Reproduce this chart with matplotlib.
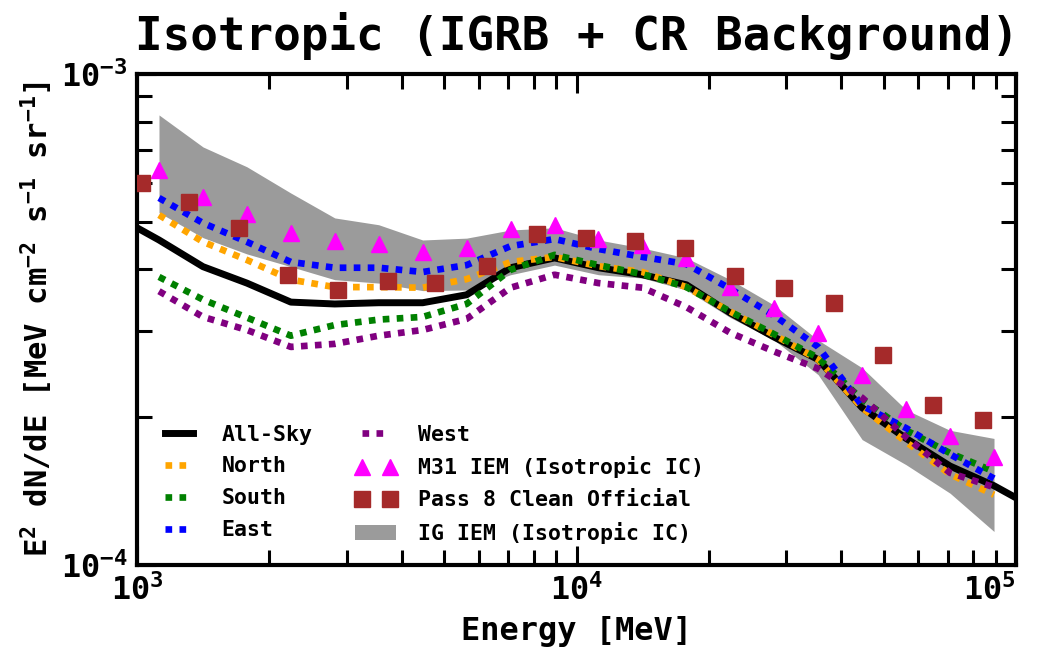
import numpy as np
import matplotlib
matplotlib.use('Agg')
import matplotlib.pyplot as plt
from matplotlib.ticker import LogLocator, NullFormatter

plt.rcParams['font.family'] = ['DejaVu Sans Mono']
plt.rcParams['font.weight'] = 'bold'
plt.rcParams['mathtext.fontset'] = 'custom'
plt.rcParams['mathtext.rm'] = 'DejaVu Sans Mono:bold'
plt.rcParams['mathtext.it'] = 'DejaVu Sans Mono:bold'
plt.rcParams['mathtext.bf'] = 'DejaVu Sans Mono:bold'
plt.rcParams['mathtext.default'] = 'regular'

# ---------------- data ----------------
energy = [1122, 1413, 1778, 2239, 2818, 3548, 4467, 5623, 7079, 8913,
          11220, 14125, 17783, 22387, 28184, 35481, 44668, 56234, 70795, 89125]

allsky_energy = [1000] + energy + [100000]
allsky = [4.86e-4, 4.59e-4, 4.05e-4, 3.75e-4, 3.43e-4, 3.40e-4, 3.42e-4, 3.42e-4, 3.55e-4,
          4.03e-4, 4.22e-4, 4.03e-4, 3.90e-4, 3.72e-4, 3.26e-4, 2.91e-4, 2.62e-4, 2.09e-4,
          1.81e-4, 1.59e-4, 1.45e-4, 1.37e-4]

north = [5.16e-4, 4.55e-4, 4.18e-4, 3.81e-4, 3.68e-4, 3.68e-4, 3.67e-4, 3.82e-4, 4.14e-4, 4.24e-4,
         4.06e-4, 3.95e-4, 3.68e-4, 3.28e-4, 2.94e-4, 2.62e-4, 2.09e-4, 1.78e-4, 1.53e-4, 1.39e-4]
south = [3.86e-4, 3.47e-4, 3.19e-4, 2.93e-4, 3.08e-4, 3.16e-4, 3.20e-4, 3.40e-4, 3.99e-4, 4.28e-4,
         4.08e-4, 3.91e-4, 3.68e-4, 3.28e-4, 2.95e-4, 2.64e-4, 2.17e-4, 1.88e-4, 1.69e-4, 1.55e-4]
east = [5.59e-4, 4.97e-4, 4.55e-4, 4.14e-4, 4.03e-4, 4.03e-4, 3.95e-4, 4.08e-4, 4.46e-4, 4.61e-4,
        4.40e-4, 4.24e-4, 4.10e-4, 3.65e-4, 3.22e-4, 2.78e-4, 2.11e-4, 1.90e-4, 1.68e-4, 1.50e-4]
west = [3.61e-4, 3.20e-4, 3.01e-4, 2.78e-4, 2.82e-4, 2.93e-4, 3.01e-4, 3.17e-4, 3.67e-4, 3.90e-4,
        3.75e-4, 3.67e-4, 3.35e-4, 2.97e-4, 2.72e-4, 2.51e-4, 2.19e-4, 1.82e-4, 1.54e-4, 1.44e-4]

m31_iem = [6.38e-4, 5.62e-4, 5.19e-4, 4.74e-4, 4.57e-4, 4.51e-4, 4.34e-4, 4.42e-4, 4.83e-4, 4.93e-4,
           4.61e-4, 4.49e-4, 4.22e-4, 3.68e-4, 3.34e-4, 2.97e-4, 2.44e-4, 2.08e-4, 1.83e-4, 1.66e-4]

ig_upper = [8.25e-4, 7.10e-4, 6.47e-4, 5.72e-4, 5.09e-4, 4.93e-4, 4.59e-4, 4.63e-4, 4.81e-4, 4.86e-4,
            4.59e-4, 4.42e-4, 4.22e-4, 3.81e-4, 3.38e-4, 2.87e-4, 2.52e-4, 2.07e-4, 1.88e-4, 1.81e-4]
ig_lower = [5.22e-4, 4.64e-4, 4.30e-4, 4.05e-4, 3.81e-4, 3.75e-4, 3.62e-4, 3.63e-4, 3.90e-4, 4.08e-4,
            3.90e-4, 3.84e-4, 3.63e-4, 3.19e-4, 2.87e-4, 2.44e-4, 1.80e-4, 1.60e-4, 1.40e-4, 1.17e-4]

p8_energy = [1027, 1313, 1707, 2206, 2866, 3725, 4765, 6258, 8130, 10510,
             13587, 17652, 22937, 29657, 38531, 49831, 64728, 84120]
p8_clean = [6.00e-4, 5.49e-4, 4.86e-4, 3.90e-4, 3.63e-4, 3.79e-4, 3.75e-4, 4.06e-4, 4.72e-4,
            4.63e-4, 4.57e-4, 4.42e-4, 3.88e-4, 3.67e-4, 3.42e-4, 2.68e-4, 2.12e-4, 1.97e-4]

# ---------------- plot ----------------
fig = plt.figure(figsize=(10.5, 6.6), dpi=100)
ax = fig.add_axes([0.1305, 0.144, 0.8371, 0.744])

band = ax.fill_between(energy, ig_lower, ig_upper, color='#9b9b9b', lw=0, zorder=1,
                       label='IG IEM (Isotropic IC)')
l_all, = ax.plot(allsky_energy, allsky, color='black', lw=5, zorder=2, label='All-Sky')
dot = dict(lw=4.8, ls=(0, (1, 1.1)), dash_capstyle='butt', zorder=3)
l_n, = ax.plot(energy, north, color='#FFA500', label='North', **dot)
l_s, = ax.plot(energy, south, color='#008000', label='South', **dot)
l_e, = ax.plot(energy, east, color='#0000FF', label='East', **dot)
l_w, = ax.plot(energy, west, color='#800080', label='West', **dot)
l_m, = ax.plot(energy, m31_iem, ls='none', marker='^', ms=12, color='#FF00FF',
               mec='#FF00FF', zorder=4, label='M31 IEM (Isotropic IC)')
l_p, = ax.plot(p8_energy, p8_clean, ls='none', marker='s', ms=11, color='#A52A2A',
               mec='#A52A2A', zorder=5, label='Pass 8 Clean Official')

ax.set_xscale('log')
ax.set_yscale('log')
ax.set_xlim(1e3, 1e5)
ax.set_ylim(1e-4, 1e-3)

ax.yaxis.set_minor_locator(LogLocator(base=10, subs=np.arange(2, 10)))
ax.yaxis.set_minor_formatter(NullFormatter())
ax.xaxis.set_minor_locator(LogLocator(base=10, subs=np.arange(2, 10)))
ax.xaxis.set_minor_formatter(NullFormatter())

ax.tick_params(which='both', direction='in', top=True, right=True, width=2.2)
ax.tick_params(which='major', length=14, labelsize=23, pad=7)
ax.tick_params(which='minor', length=10.5)
for sp in ax.spines.values():
    sp.set_linewidth(3)

ax.set_title('Isotropic (IGRB + CR Background)', fontsize=33, fontweight='bold', pad=17)
ax.set_xlabel('Energy [MeV]', fontsize=23, fontweight='bold', labelpad=6)
ax.set_ylabel(r'E$^{2}$ dN/dE [MeV cm$^{-2}$ s$^{-1}$ sr$^{-1}$]', fontsize=22,
              fontweight='bold', labelpad=4)

handles = [l_all, l_n, l_s, l_e, l_w, l_m, l_p, band]
ax.legend(handles=handles, labels=[h.get_label() for h in handles], ncol=2,
          frameon=False, loc='lower left', bbox_to_anchor=(0.015, 0.025),
          fontsize=15.5, handlelength=1.9, numpoints=2, handletextpad=1.0,
          columnspacing=2.0, labelspacing=0.55, borderaxespad=0)

fig.canvas.draw()
for tick in ax.xaxis.get_major_ticks():
    if np.isclose(tick.get_loc(), 1e5):
        tick.label1.set_horizontalalignment('right')

fig.savefig('out.png', dpi=100)
